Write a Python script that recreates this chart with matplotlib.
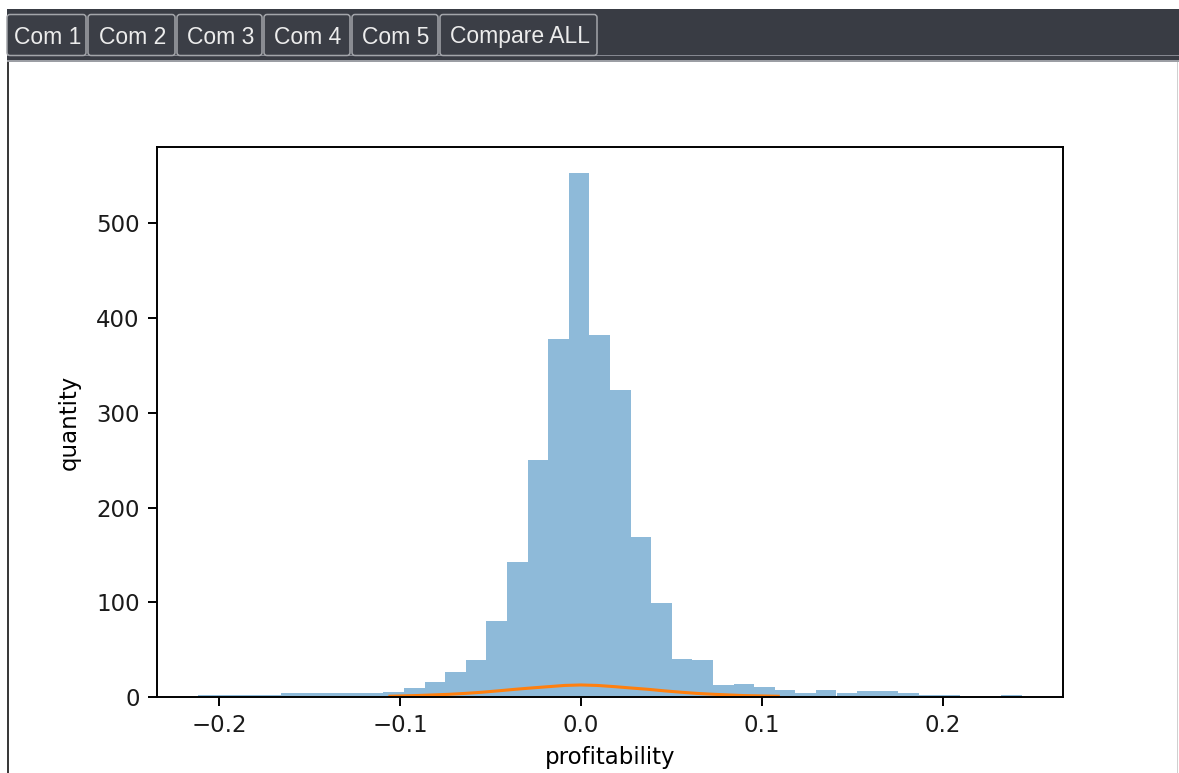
import matplotlib
matplotlib.use('Agg')
import matplotlib.pyplot as plt
import matplotlib.patches as mpatches
import numpy as np

# histogram of profitability, 40 equal bins between the data min and max
data_min = -0.2114
data_max = 0.2435
counts = [2, 2, 2, 2, 4, 4, 4, 4, 4, 5,
          9, 16, 26, 39, 80, 143, 250, 378, 553, 382,
          324, 169, 99, 40, 39, 13, 14, 11, 7, 4,
          7, 4, 6, 6, 4, 2, 2, 0, 0, 2]

# orange fitted curve
curve_x = [-0.1055, -0.09, -0.0733, -0.064, -0.0549, -0.0457, -0.0365, -0.027, -0.018, -0.009,
           0.0, 0.009, 0.0188, 0.027, 0.0372, 0.046, 0.0556, 0.064, 0.074, 0.09, 0.109]
curve_y = [0.8, 1.6, 2.8, 3.8, 5.0, 6.5, 8.1, 9.6, 10.9, 12.2,
           12.7, 12.2, 10.9, 9.6, 8.1, 6.5, 5.0, 3.8, 2.8, 1.5, 0.8]

tab_names = ['Com 1', 'Com 2', 'Com 3', 'Com 4', 'Com 5', 'Compare ALL']
tab_left = [7, 88, 177, 264, 352, 440]
tab_right = [86, 175, 262, 350, 438, 597]

W, H = 1179, 773
fig = plt.figure(figsize=(W / 100, H / 100), dpi=100)
fig.patch.set_facecolor('white')

# window chrome drawn in pixel coordinates
bg = fig.add_axes([0, 0, 1, 1], zorder=0)
bg.set_xlim(0, W)
bg.set_ylim(H, 0)
bg.axis('off')

bg.add_patch(mpatches.Rectangle((7, 9), W - 7, 53, facecolor='#393c44', edgecolor='none'))
bg.add_patch(mpatches.Rectangle((7, 54.5), W - 7, 1.6, facecolor='#858790', edgecolor='none'))
bg.add_patch(mpatches.Rectangle((7, 60), W - 7, 2, facecolor='#9c9ea4', edgecolor='none'))
bg.add_patch(mpatches.Rectangle((7.3, 62), 1.7, H - 62, facecolor='#3a3a3a', edgecolor='none'))
bg.add_patch(mpatches.Rectangle((1176.5, 62), 1.2, H - 62, facecolor='#d0d0d0', edgecolor='none'))

for name, xl, xr in zip(tab_names, tab_left, tab_right):
    bg.add_patch(mpatches.FancyBboxPatch((xl, 14.5), xr - xl, 41,
                                         boxstyle='round,pad=0,rounding_size=3',
                                         facecolor='#3b3e46', edgecolor='#a3a5aa', lw=1.1))
    bg.text((xl + xr) / 2 + 1, 37, name, color='#ececec', fontsize=16.5,
            family='Liberation Sans', ha='center', va='center')

# the chart itself
ax = fig.add_axes([157 / W, (H - 697) / H, 906 / W, 550 / H], zorder=1)

edges = np.linspace(data_min, data_max, len(counts) + 1)
centers = (edges[:-1] + edges[1:]) / 2
ax.hist(centers, bins=edges, weights=counts, alpha=0.5, color='C0')
ax.plot(curve_x, curve_y, color='C1', lw=2.2)

ax.set_yticks([0, 100, 200, 300, 400, 500])
ax.set_xticks([-0.2, -0.1, 0.0, 0.1, 0.2])
ax.set_xlabel('profitability', fontsize=16.5, labelpad=6)
ax.set_ylabel('quantity', fontsize=16.5, labelpad=11)
ax.tick_params(labelsize=16.5, width=1.4, length=6.5, pad=6, labelcolor='#1a1a1a')
for s in ax.spines.values():
    s.set_linewidth(1.4)

fig.savefig('out.png', dpi=100)
